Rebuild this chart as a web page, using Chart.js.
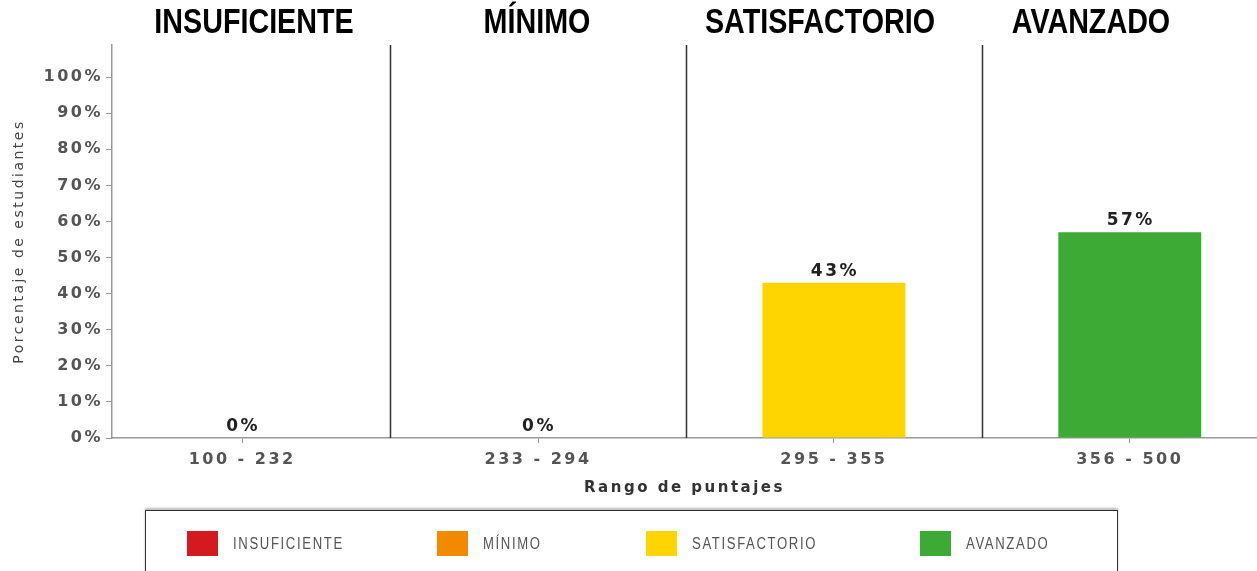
<!DOCTYPE html>
<html>
<head>
<meta charset="utf-8">
<script src="https://cdn.jsdelivr.net/npm/chart.js@4"></script>
<style>
  html, body { margin: 0; padding: 0; background: #fff; overflow: hidden; }
  #wrap { position: relative; width: 1257px; height: 571px; }
  #wrap canvas { position: absolute; left: 0; top: 0; }
  .level {
    position: absolute; top: 3px; transform: translateX(-50%) scaleX(0.82);
    font-family: "Liberation Sans", sans-serif; font-weight: bold;
    font-size: 35px; line-height: 1; color: #000; white-space: nowrap;
  }
  #legend {
    position: absolute; left: 145px; top: 510px; width: 973px; height: 90px;
    border: 1.5px solid #333; box-shadow: 0 -2px 2px #bbb; background: #fff;
    box-sizing: border-box;
  }
  .item { position: absolute; top: 20px; display: flex; align-items: center; }
  .swatch { width: 31px; height: 25px; margin-right: 15px; flex: none; }
  .lbl {
    display: inline-block; transform: scaleX(0.82); transform-origin: left center;
    font-family: "Liberation Sans", sans-serif; font-size: 16px;
    letter-spacing: 2px; color: #555; white-space: nowrap;
  }
</style>
</head>
<body>
<div id="wrap">
  <canvas id="chart"></canvas>
  <div id="legend"></div>
</div>
<script>
// Chart data
const levels = ["INSUFICIENTE", "MÍNIMO", "SATISFACTORIO", "AVANZADO"];
const ranges = ["100 - 232", "233 - 294", "295 - 355", "356 - 500"];
const percents = [0, 0, 43, 57];
const colors = ["#D41A1E", "#F28A00", "#FFD500", "#3DAA35"];
const yTicks = [0, 10, 20, 30, 40, 50, 60, 70, 80, 90, 100];

// Level headings above each column
const headingCenters = [254, 537, 820, 1091];
const wrap = document.getElementById("wrap");
levels.forEach((name, i) => {
  const el = document.createElement("div");
  el.className = "level";
  el.textContent = name;
  el.style.left = headingCenters[i] + "px";
  wrap.appendChild(el);
});

// Legend
const legendLefts = [41, 291, 500, 774];
const legend = document.getElementById("legend");
levels.forEach((name, i) => {
  const item = document.createElement("div");
  item.className = "item";
  item.style.left = legendLefts[i] + "px";
  item.innerHTML = '<div class="swatch" style="background:' + colors[i] + '"></div><span class="lbl">' + name + "</span>";
  legend.appendChild(item);
});

// Spaced-out text like the original render
const spacing = {
  id: "spacing",
  beforeDraw(chart) { chart.ctx.letterSpacing = "2.5px"; },
  afterDraw(chart) { chart.ctx.letterSpacing = "0px"; },
};

// Vertical dividers between columns
const dividers = {
  id: "dividers",
  afterDatasetsDraw(chart) {
    const { ctx, chartArea, scales } = chart;
    ctx.save();
    ctx.strokeStyle = "#333";
    ctx.lineWidth = 1.5;
    for (let i = 0; i < levels.length - 1; i++) {
      const x = Math.round(scales.x.getPixelForValue(i + 0.5)) + 0.5;
      ctx.beginPath();
      ctx.moveTo(x, chartArea.top);
      ctx.lineTo(x, chartArea.bottom);
      ctx.stroke();
    }
    ctx.restore();
  },
};

// Value labels above bars
const valueLabels = {
  id: "valueLabels",
  afterDatasetsDraw(chart) {
    const { ctx } = chart;
    const meta = chart.getDatasetMeta(0);
    ctx.save();
    ctx.font = "bold 17px 'DejaVu Sans'";
    ctx.fillStyle = "#222";
    ctx.textAlign = "center";
    ctx.textBaseline = "bottom";
    meta.data.forEach((bar, i) => {
      ctx.fillText(percents[i] + "%", bar.x + 1, bar.y - 3);
    });
    ctx.restore();
  },
};

new Chart(document.getElementById("chart").getContext("2d"), {
  type: "bar",
  data: {
    datasets: [
      {
        data: percents.map((v, i) => ({ x: i, y: v })),
        backgroundColor: colors,
        categoryPercentage: 1,
        barPercentage: 0.483,
      },
    ],
  },
  options: {
    responsive: true,
    maintainAspectRatio: false,
    animation: false,
    layout: { padding: { top: 45, left: 0, right: 0, bottom: 0 } },
    plugins: {
      legend: { display: false },
      tooltip: { enabled: false },
    },
    scales: {
      x: {
        type: "linear",
        offset: false,
        min: -0.44,
        max: 3.43,
        afterBuildTicks: (scale) => {
          scale.ticks = ranges.map((_, i) => ({ value: i }));
        },
        afterFit: (scale) => { scale.height = 133; },
        grid: { offset: false, drawOnChartArea: false, color: "#999", tickLength: 5 },
        border: { color: "#999", width: 1.5 },
        ticks: {
          autoSkip: false,
          maxRotation: 0,
          padding: 7,
          color: "#555",
          font: { family: "DejaVu Sans", size: 16, weight: "bold" },
          callback: (v) => ranges[v],
        },
        title: {
          display: true,
          text: "Rango de puntajes",
          color: "#333",
          font: { family: "DejaVu Sans", size: 15, weight: "bold" },
          padding: { top: 0, bottom: 74 },
        },
      },
      y: {
        min: 0,
        max: 108.9,
        afterBuildTicks: (scale) => {
          scale.ticks = yTicks.map((v) => ({ value: v }));
        },
        afterFit: (scale) => { scale.width = 112; },
        grid: { drawOnChartArea: false, color: "#999", tickLength: 6 },
        border: { color: "#999", width: 1.5 },
        ticks: {
          padding: 3,
          color: "#555",
          font: { family: "DejaVu Sans", size: 16, weight: "bold" },
          callback: (v) => v + "%",
        },
        title: {
          display: true,
          text: "Porcentaje de estudiantes",
          color: "#444",
          font: { family: "DejaVu Sans", size: 14 },
          padding: { top: 11, bottom: 0 },
        },
      },
    },
  },
  plugins: [spacing, dividers, valueLabels],
});
</script>
</body>
</html>
